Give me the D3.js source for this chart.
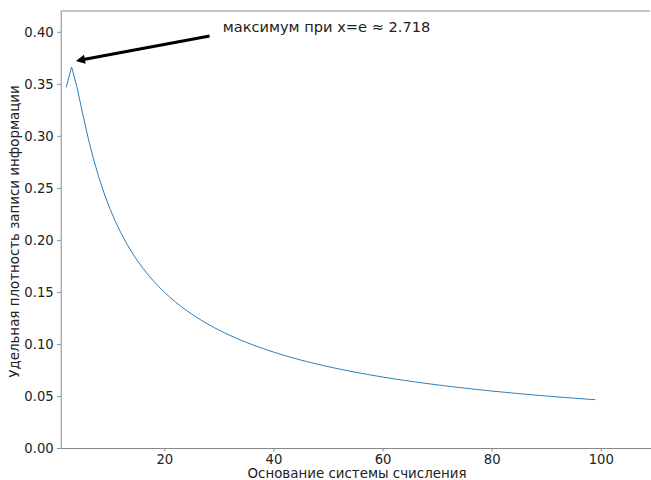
<!DOCTYPE html>
<html>
<head>
<meta charset="utf-8">
<script src="https://cdn.jsdelivr.net/npm/d3@7"></script>
<style>
  body { margin: 0; background: #fff; }
  text { font-family: 'DejaVu Sans', sans-serif; fill: #222; }
</style>
</head>
<body>
<div id="chart"></div>
<script>
// основание системы счисления
const bases = [
  2, 3, 4, 5, 6, 7, 8, 9, 10, 11, 12, 13, 14, 15, 16, 17, 18, 19, 20,
  21, 22, 23, 24, 25, 26, 27, 28, 29, 30, 31, 32, 33, 34, 35, 36, 37, 38, 39, 40,
  41, 42, 43, 44, 45, 46, 47, 48, 49, 50, 51, 52, 53, 54, 55, 56, 57, 58, 59, 60,
  61, 62, 63, 64, 65, 66, 67, 68, 69, 70, 71, 72, 73, 74, 75, 76, 77, 78, 79, 80,
  81, 82, 83, 84, 85, 86, 87, 88, 89, 90, 91, 92, 93, 94, 95, 96, 97, 98, 99,
];

// удельная плотность записи
const density = [
  0.34657, 0.36620, 0.34657, 0.32189, 0.29863, 0.27799, 0.25993, 0.24414, 0.23026, 0.21799,
  0.20708, 0.19730, 0.18850, 0.18054, 0.17329, 0.16666, 0.16058, 0.15497, 0.14979,
  0.14498, 0.14050, 0.13633, 0.13242, 0.12876, 0.12531, 0.12207, 0.11901, 0.11611, 0.11337,
  0.11077, 0.10830, 0.10595, 0.10372, 0.10158, 0.09954, 0.09759, 0.09573, 0.09394, 0.09222,
  0.09058, 0.08899, 0.08747, 0.08600, 0.08459, 0.08323, 0.08192, 0.08065, 0.07942, 0.07824,
  0.07709, 0.07599, 0.07491, 0.07387, 0.07286, 0.07188, 0.07093, 0.07001, 0.06911, 0.06824,
  0.06739, 0.06657, 0.06576, 0.06498, 0.06422, 0.06348, 0.06276, 0.06205, 0.06136, 0.06069,
  0.06004, 0.05940, 0.05877, 0.05816, 0.05757, 0.05698, 0.05641, 0.05586, 0.05531, 0.05478,
  0.05425, 0.05374, 0.05324, 0.05275, 0.05227, 0.05180, 0.05133, 0.05088, 0.05043, 0.05000,
  0.04957, 0.04915, 0.04874, 0.04833, 0.04794, 0.04755, 0.04716, 0.04679, 0.04642,
];

const xTicks = [20, 40, 60, 80, 100];
const yTicks = [0, 0.05, 0.1, 0.15, 0.2, 0.25, 0.3, 0.35, 0.4];

// подпись и стрелка: [x, y] в координатах данных
const noteText = 'максимум при x=e ≈ 2.718';
const noteTextAt = [30.7, 0.4];
const arrowFrom = [28.3, 0.396];
const arrowTo = [3.8, 0.372];

const width = 651;
const height = 480;

const x = d3.scaleLinear().domain([1, 110]).range([60.7, 655.3]);
const y = d3.scaleLinear().domain([0, 0.42]).range([448, 11]);

const svg = d3.select('#chart').append('svg')
  .attr('width', width)
  .attr('height', height)
  .attr('viewBox', [0, 0, width, height]);

/* AXES */

const axisStyle = (g) => g
  .call(() => g.select('.domain').attr('stroke', '#888'))
  .call(() => g.selectAll('.tick line').attr('stroke', '#888'))
  .call(() => g.selectAll('.tick text')
    .attr('font-size', 13.2)
    .attr('font-family', 'DejaVu Sans')
    .attr('fill', '#222'));

svg.append('g')
  .attr('transform', `translate(0, ${y(0)})`)
  .call(d3.axisBottom(x).tickValues(xTicks).tickSize(3.5).tickPadding(3.5).tickSizeOuter(0))
  .call(axisStyle);

svg.append('g')
  .attr('transform', `translate(${x(1)}, 0)`)
  .call(d3.axisLeft(y).tickValues(yTicks).tickFormat(d3.format('.2f'))
    .tickSize(3.5).tickPadding(3.5).tickSizeOuter(0))
  .call(axisStyle);

// верхняя рамка
svg.append('line')
  .attr('x1', x(1)).attr('x2', width - 1)
  .attr('y1', y(0.42)).attr('y2', y(0.42))
  .attr('stroke', '#888');

/* LABELS */

svg.append('text')
  .attr('x', (x(1) + x(110)) / 2 - 1)
  .attr('y', 478)
  .attr('text-anchor', 'middle')
  .attr('font-size', 13.4)
  .text('Основание системы счисления');

svg.append('text')
  .attr('transform', `translate(19, ${(y(0) + y(0.42)) / 2 + 2}) rotate(-90)`)
  .attr('text-anchor', 'middle')
  .attr('font-size', 13.4)
  .text('Удельная плотность записи информации');

/* LINE */

const points = bases.map((b, i) => [b, density[i]]);

svg.append('path')
  .datum(points)
  .attr('fill', 'none')
  .attr('stroke', '#2a7fbd')
  .attr('stroke-width', 1)
  .attr('d', d3.line().x((d) => x(d[0])).y((d) => y(d[1])));

/* ANNOTATION */

svg.append('text')
  .attr('x', x(noteTextAt[0]))
  .attr('y', y(noteTextAt[1]))
  .attr('font-size', 14.6)
  .text(noteText);

const x0 = x(arrowFrom[0]);
const y0 = y(arrowFrom[1]);
const x1 = x(arrowTo[0]);
const y1 = y(arrowTo[1]);
const len = Math.hypot(x1 - x0, y1 - y0);
const ux = (x1 - x0) / len;
const uy = (y1 - y0) / len;
const headLen = 9;
const headHalf = 4.5;
const shaftHalf = 1.6;
const bx = x1 - ux * headLen;
const by = y1 - uy * headLen;

svg.append('polygon')
  .attr('fill', '#000')
  .attr('points', [
    [x0 - uy * shaftHalf, y0 + ux * shaftHalf],
    [bx - uy * shaftHalf, by + ux * shaftHalf],
    [bx - uy * headHalf, by + ux * headHalf],
    [x1, y1],
    [bx + uy * headHalf, by - ux * headHalf],
    [bx + uy * shaftHalf, by - ux * shaftHalf],
    [x0 + uy * shaftHalf, y0 - ux * shaftHalf],
  ].map((p) => p.join(',')).join(' '));
</script>
</body>
</html>
